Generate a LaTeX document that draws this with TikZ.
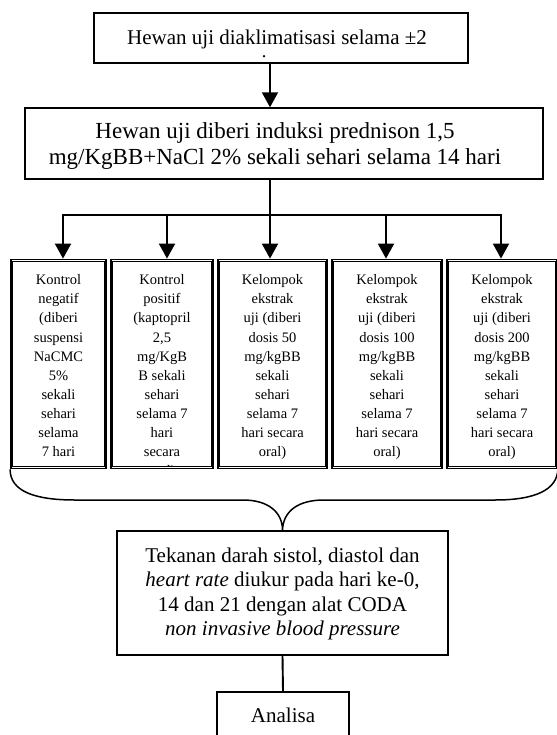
\documentclass[tikz,border=0pt]{standalone}
\usepackage{fontspec}
\setmainfont{Liberation Serif}
\usetikzlibrary{arrows.meta,calc}
\begin{document}
\begin{tikzpicture}[x=1pt,y=-1pt,
  box/.style={draw, line width=1.4pt, inner sep=0pt},
  dbox/.style={draw, line width=1.8pt, inner sep=0pt, minimum height=209pt},
  innerline/.style={line width=0.7pt},
  conn/.style={line width=1.9pt},
  arr/.style={conn,-{Triangle[width=16pt,length=15pt]}},
  bracepath/.style={line width=1.5pt},
  bigtxt/.style={font=\fontsize{21}{24.5}\selectfont, align=center, inner sep=0pt},
  hugetxt/.style={font=\fontsize{23}{26.5}\selectfont, align=center, inner sep=0pt},
  smalltxt/.style={font=\fontsize{14.5}{19.1}\selectfont, align=center, inner sep=0pt}]
\useasboundingbox (0,0) rectangle (556,735);

% top box
\node[box, minimum width=374pt, minimum height=50pt] (b1) at (281,38) {};
\begin{scope}
  \clip (95,14) rectangle (467,57.2);
  \node[bigtxt, anchor=north] (t1) at (277,30) {Hewan uji diaklimatisasi selama ±2\\minggu};
\end{scope}

% second box
\node[box, minimum width=518pt, minimum height=71pt] (b2) at (284,143.5) {};
\node[hugetxt, anchor=north] (t2) at (275,122) {Hewan uji diberi induksi prednison 1,5\\mg/KgBB+NaCl 2\% sekali sehari selama 14 hari};

% five group boxes
\node[dbox, minimum width=95pt] (s1) at (58.5,364) {};
\node[dbox, minimum width=102pt] (s2) at (162,364) {};
\node[dbox, minimum width=109pt] (s3) at (272.5,364) {};
\node[dbox, minimum width=110pt] (s4) at (387,364) {};
\node[dbox, minimum width=110pt] (s5) at (502,364) {};
\foreach \s in {s1,s2,s3,s4,s5}{
  \draw[innerline] ($(\s.south west)+(2.6pt,2.6pt)$) rectangle ($(\s.north east)+(-2.6pt,-2.6pt)$);
}

\node[smalltxt, anchor=north] (u1) at (58.5,274.5) {Kontrol\\negatif\\(diberi\\suspensi\\NaCMC\\5\%\\sekali\\sehari\\selama\\7 hari};
\begin{scope}
  \clip ($(s2.south west)+(3pt,3pt)$) rectangle ($(s2.north east)+(-3pt,-3pt)$);
  \node[smalltxt, anchor=north] (u2) at (162,274.5) {Kontrol\\positif\\(kaptopril\\2,5\\mg/KgB\\B sekali\\sehari\\selama 7\\hari\\secara\\oral)};
\end{scope}
\node[smalltxt, anchor=north] (u3) at (272.5,274.5) {Kelompok\\ekstrak\\uji (diberi\\dosis 50\\mg/kgBB\\sekali\\sehari\\selama 7\\hari secara\\oral)};
\node[smalltxt, anchor=north] (u4) at (387,274.5) {Kelompok\\ekstrak\\uji (diberi\\dosis 100\\mg/kgBB\\sekali\\sehari\\selama 7\\hari secara\\oral)};
\node[smalltxt, anchor=north] (u5) at (502,274.5) {Kelompok\\ekstrak\\uji (diberi\\dosis 200\\mg/kgBB\\sekali\\sehari\\selama 7\\hari secara\\oral)};

% center box
\node[box, minimum width=331pt, minimum height=124pt] (c) at (282.5,593) {};
\node[bigtxt, anchor=north] (tc) at (282.5,547.5) {Tekanan darah sistol, diastol dan\\\textit{heart rate} diukur pada hari ke-0,\\14 dan 21 dengan alat CODA\\\textit{non invasive blood pressure}};

% analisa box
\node[box, minimum width=132pt, minimum height=60pt] (an) at (283,722) {};
\node[bigtxt] (ta) at (283,715) {Analisa};

% connectors
\coordinate (j0) at (270,0);
\coordinate (split) at (270,215);
\draw[arr] (b1.south -| j0) -- (b2.north -| j0);
\draw[conn] (b2.south -| split) -- (split);
\coordinate (a1) at (63,215);
\coordinate (a2) at (167,215);
\coordinate (a3) at (270,215);
\coordinate (a4) at (386,215);
\coordinate (a5) at (501,215);
\draw[conn, line cap=rect] (a1) -- (a5);
\draw[arr] (a1) -- (s1.north -| a1);
\draw[arr] (a2) -- (s2.north -| a2);
\draw[arr] (a3) -- (s3.north -| a3);
\draw[arr] (a4) -- (s4.north -| a4);
\draw[arr] (a5) -- (s5.north -| a5);

% brace
\coordinate (tip) at (c.north);
\draw[bracepath] (s1.south west) .. controls ++(0,22) and (35,500) .. (75,500)
  -- (243,500) .. controls (268,500) and (282.5,512) .. (tip)
  .. controls (283,512) and (297,500) .. (324,500)
  -- (495,500) .. controls (535,500) and (557,490) .. (s5.south east);

\draw[conn] (c.south) -- (an.north);
\end{tikzpicture}
\end{document}
